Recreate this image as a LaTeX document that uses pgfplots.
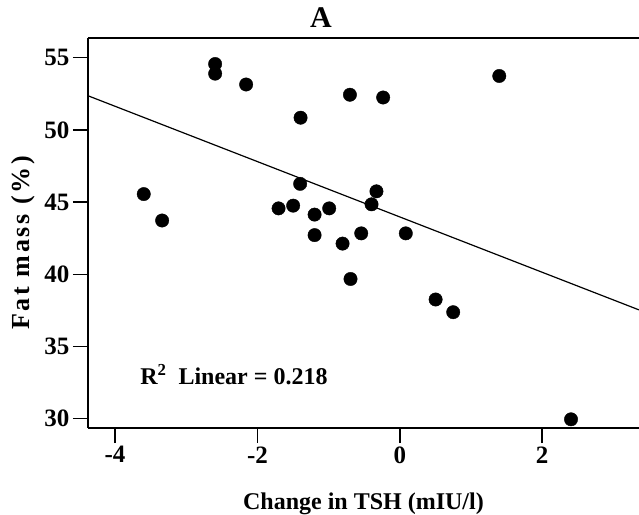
\documentclass[border=0pt]{standalone}
\usepackage{fontspec}
\setmainfont{Liberation Serif}
\usepackage{pgfplots}
\pgfplotsset{compat=1.18}
\begin{document}
\begin{tikzpicture}
\useasboundingbox (-88pt,-86pt) rectangle (551pt,428pt);
\begin{axis}[
  at={(0pt,0pt)}, anchor=south west,
  scale only axis,
  width=551pt, height=390pt,
  xmin=-4.38, xmax=3.36,
  ymin=29.36, ymax=56.37,
  axis x line*=bottom,
  axis y line*=left,
  axis line style={line width=1.4pt, -},
  xtick={-4,-2,0,2},
  xticklabels={-4,-2,0,2},
  ytick={30,35,40,45,50,55},
  yticklabels={30,35,40,45,50,55},
  tick align=outside,
  major tick length=15pt,
  tick style={line width=1.4pt, black},
  tick label style={font=\fontsize{25}{30}\selectfont\bfseries},
  xlabel={Change in TSH (mIU/l)},
  ylabel={Fat mass (\%)},
  title={A},
  xlabel style={at={(axis description cs:0.5,-0.2077)}, anchor=base, font=\fontsize{24}{28}\selectfont\bfseries},
  ylabel style={at={(axis description cs:-0.107,0.475)}, anchor=base, font=\fontsize{26}{30}\selectfont\bfseries\addfontfeatures{LetterSpace=11}},
  title style={at={(axis description cs:0.4228,1.0128)}, anchor=base, font=\fontsize{30}{34}\selectfont\bfseries},
]
\draw[line width=1.4pt] (rel axis cs:0,1) -- (rel axis cs:1,1);
\addplot[only marks, mark=*, mark size=6.7pt, black] coordinates {
(-3.597,45.56) (-3.339,43.73) (-2.594,54.57) (-2.594,53.90) (-2.159,53.15)
(-1.394,50.85) (-1.400,46.27) (-1.703,44.57) (-1.498,44.76) (-1.197,44.14)
(-1.197,42.72) (1.397,53.74) (-0.701,52.44) (-0.234,52.25) (-0.328,45.75)
(-0.397,44.85) (-0.992,44.57) (-0.804,42.13) (-0.542,42.84) (0.084,42.84)
(-0.692,39.68) (0.503,38.26) (0.750,37.38) (2.405,29.96)
};
\addplot[black, line width=1.2pt] coordinates {(-4.38,52.37) (3.36,37.54)};
\node[anchor=base west, font=\fontsize{24}{28}\selectfont\bfseries] at (axis cs:-3.695,32.4) {R\textsuperscript{2}\ \ Linear = 0.218};
\end{axis}
\end{tikzpicture}
\end{document}
